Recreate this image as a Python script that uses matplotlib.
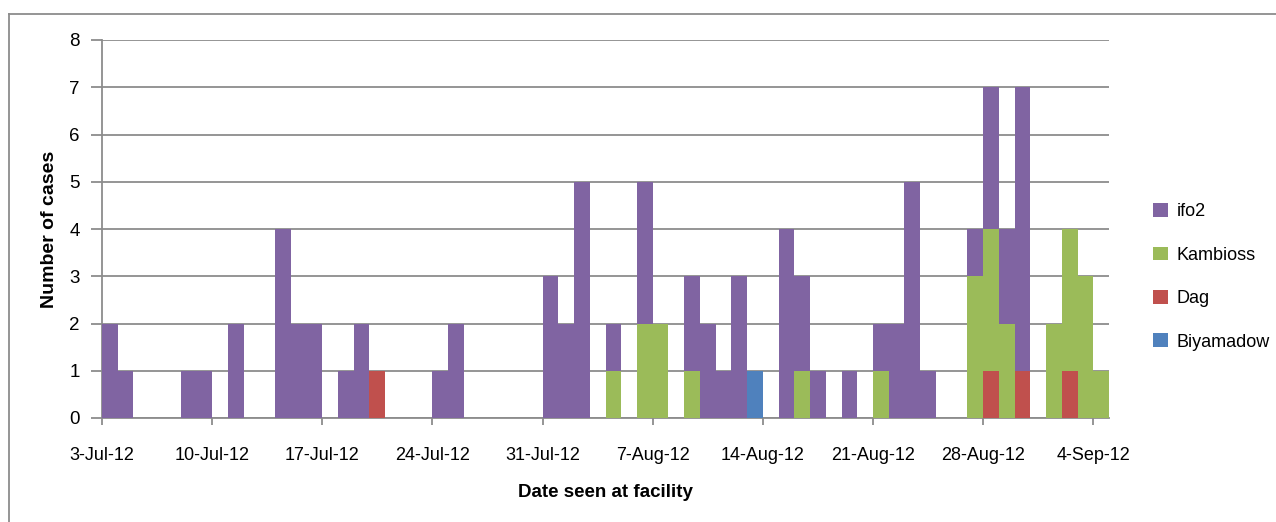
import matplotlib
matplotlib.use("Agg")
import matplotlib.pyplot as plt
import matplotlib.dates as mdates
from matplotlib.lines import Line2D
import pandas as pd
import numpy as np

plt.rcParams['font.family'] = ['Liberation Sans', 'DejaVu Sans']

dates = pd.date_range("2012-07-03", "2012-09-04", freq="D")

ifo2 = [2, 1, 0, 0, 0, 1, 1, 0, 2, 0, 0, 4, 2, 2, 0, 1, 2, 0, 0, 0, 0, 1, 2, 0,
        0, 0, 0, 0, 3, 2, 5, 0, 1, 0, 3, 0, 0, 2, 2, 1, 3, 0, 0, 4, 2, 1, 0, 1,
        0, 1, 2, 5, 1, 0, 0, 1, 3, 2, 6, 0, 0, 0, 0, 0]
kambioss = [0] * 32 + [1, 0, 2, 2, 0, 1, 0, 0, 0, 0, 0, 0, 1, 0, 0, 0,
                       0, 1, 0, 0, 0, 0, 0, 3, 3, 2, 0, 0, 2, 3, 3, 1]
dag = [0] * 17 + [1] + [0] * 38 + [1, 0, 1, 0, 0, 1, 0, 0]
biyamadow = [0] * 41 + [1] + [0] * 22

series_names = ["Biyamadow", "Dag", "Kambioss", "ifo2"]
series_values = [biyamadow, dag, kambioss, ifo2]
series_colors = ["#4F81BD", "#C0504D", "#9BBB59", "#8064A2"]

tick_dates = pd.date_range("2012-07-03", "2012-09-04", freq="7D")
tick_labels = [f"{d.day}-{d.strftime('%b')}-12" for d in tick_dates]

fig = plt.figure(figsize=(12.76, 5.22), dpi=100)
ax = fig.add_axes([102 / 1276, 1 - 418 / 522, (1109 - 102) / 1276, (418 - 40) / 522])

x = mdates.date2num(dates)
bottom = np.zeros(len(dates))
handles = {}
for name, vals, col in zip(series_names, series_values, series_colors):
    v = np.array(vals, dtype=float)
    b = ax.bar(x, v, width=1.0, bottom=bottom, align='edge', color=col,
               edgecolor='none', linewidth=0, zorder=3)
    handles[name] = b
    bottom += v

ax.set_xlim(mdates.date2num(pd.Timestamp("2012-07-03")),
            mdates.date2num(pd.Timestamp("2012-09-05")))
ax.set_ylim(0, 8)
ax.set_yticks(range(0, 9))
ax.set_xticks(mdates.date2num(tick_dates))
ax.set_xticklabels(tick_labels)
ax.yaxis.grid(True, color='#8c8c8c', linewidth=1.3, zorder=0)
ax.set_axisbelow(True)
for s in ['top', 'right']:
    ax.spines[s].set_visible(False)
ax.spines['left'].set_color('#8c8c8c')
ax.spines['bottom'].set_color('#8c8c8c')
ax.spines['left'].set_linewidth(1.3)
ax.spines['bottom'].set_linewidth(1.3)
ax.tick_params(axis='y', length=8, color='#8c8c8c', width=1.3, labelsize=13.5, pad=8)
ax.tick_params(axis='x', length=5, color='#8c8c8c', width=1.3, labelsize=13, pad=16)

ax.set_ylabel("Number of cases", fontsize=14, fontweight='bold', labelpad=8)
ax.set_xlabel("Date seen at facility", fontsize=13.5, fontweight='bold', labelpad=14)

order = ["ifo2", "Kambioss", "Dag", "Biyamadow"]
leg = fig.legend([handles[n] for n in order], order, loc='upper left',
                 bbox_to_anchor=(1137 / 1276, 1 - 187 / 522), frameon=False,
                 fontsize=13, handlelength=0.8, handleheight=0.8,
                 labelspacing=1.45, handletextpad=0.5)

# outer chart border
fig.add_artist(Line2D([9 / 1276, 1.0], [1 - 14 / 522, 1 - 14 / 522],
                      color='#8c8c8c', linewidth=1.3, transform=fig.transFigure))
fig.add_artist(Line2D([9 / 1276, 9 / 1276], [0.0, 1 - 14 / 522],
                      color='#8c8c8c', linewidth=1.3, transform=fig.transFigure))

fig.savefig("out.png", dpi=100)
